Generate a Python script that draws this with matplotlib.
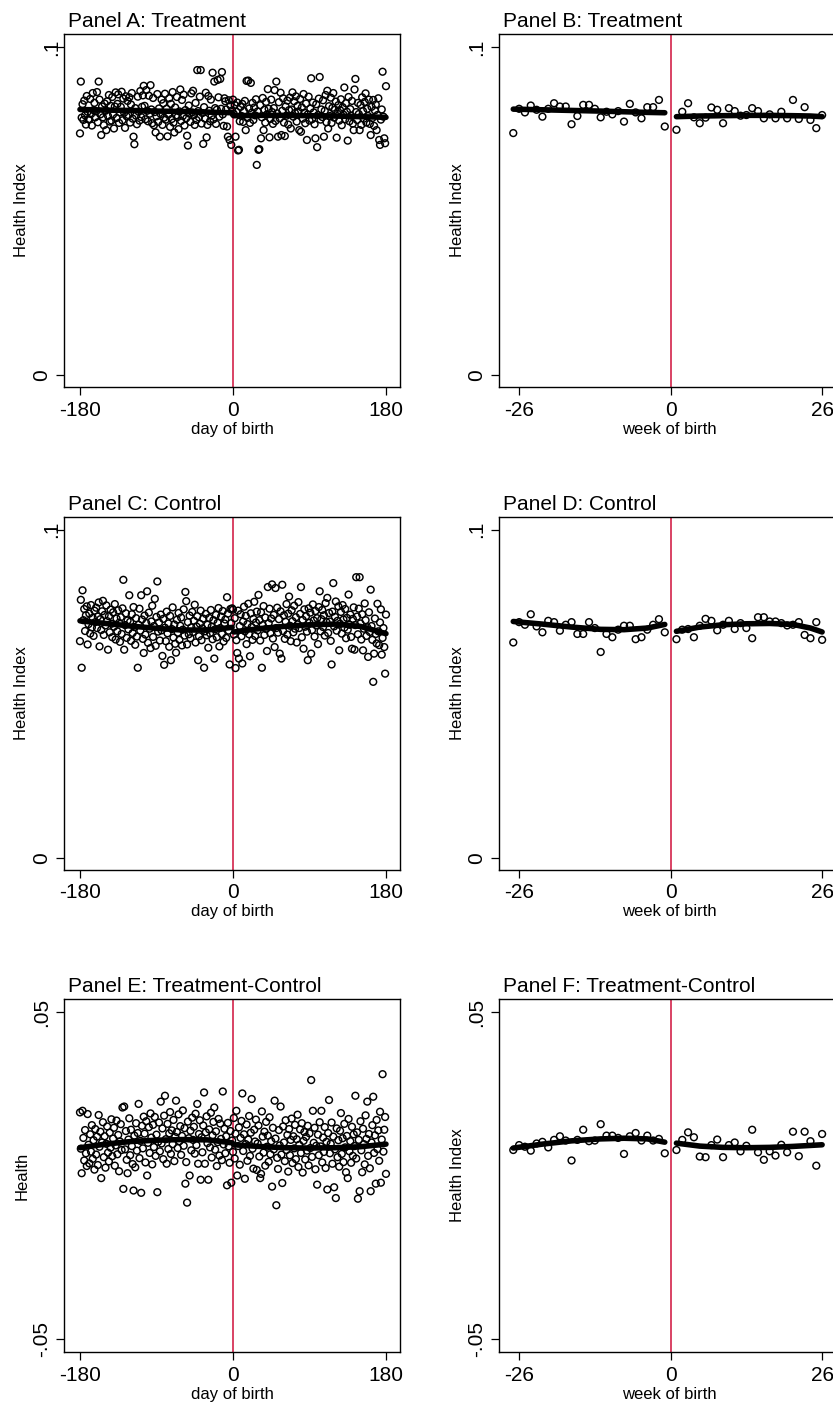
import numpy as np
import matplotlib
matplotlib.use("Agg")
import matplotlib.pyplot as plt
import matplotlib.transforms as mtransforms

plt.rcParams['font.family'] = ['Liberation Sans', 'DejaVu Sans']

# ---------------- data (values in thousandths of the index) ----------------
days = np.arange(-180, 181)
weeks = np.r_[np.arange(-27, 0), np.arange(1, 27)]

treat_day = [
    73.7, 89.5, 78.5, 82.6, 77.8, 83.7, 79.2, 76.4, 85.1, 80.3, 78.0, 77.9, 84.2, 79.6, 76.1, 86.0, 80.8, 83.0, 78.6,
    80.4, 86.3, 77.1, 89.5, 84.0, 79.5, 73.2, 81.9, 78.6, 76.2, 82.8, 80.6, 74.7, 83.5, 79.0, 85.4, 77.3, 82.1, 77.6,
    84.8, 79.5, 75.2, 81.9, 86.2, 78.4, 82.7, 85.6, 76.9, 80.1, 81.8, 86.4, 77.7, 84.3, 80.0, 75.4, 85.0, 78.9, 83.6,
    79.3, 84.7, 77.0, 82.5, 86.0, 78.2, 72.7, 70.4, 81.4, 79.1, 76.5, 84.9, 80.3, 77.6, 86.6, 78.7, 81.8, 85.3, 88.2,
    82.1, 78.0, 86.9, 80.6, 77.4, 85.2, 79.7, 88.4, 81.0, 76.8, 84.5, 76.2, 80.2, 74.0, 78.9, 85.7, 77.2, 81.3, 72.7,
    79.6, 84.0, 76.3, 82.9, 78.5, 85.8, 77.9, 81.2, 72.8, 79.4, 84.4, 75.7, 82.7, 78.1, 86.3, 77.0, 74.0, 81.6, 79.2,
    84.8, 78.7, 75.0, 80.4, 87.1, 77.5, 83.9, 79.0, 85.5, 76.1, 80.8, 78.3, 73.0, 70.0, 82.2, 79.7, 77.2, 85.9, 80.1,
    86.7, 79.3, 76.3, 83.0, 77.8, 93.0, 80.5, 78.6, 84.9, 93.0, 76.7, 79.9, 70.5, 81.7, 78.2, 86.1, 72.5, 76.3, 85.1,
    80.6, 77.4, 84.0, 79.1, 92.2, 78.0, 89.5, 81.4, 76.6, 80.9, 90.0, 84.7, 78.8, 90.3, 81.2, 92.4, 79.5, 76.0, 84.4,
    83.5, 81.0, 75.8, 72.7, 83.8, 71.7, 82.2, 70.2, 80.7, 84.0, 79.6, 82.4, 72.7, 80.3, 83.1, 68.5, 68.7, 77.4, 81.8,
    79.0, 82.7, 77.2, 80.5, 83.6, 74.7, 89.7, 78.4, 89.8, 81.3, 76.9, 89.1, 80.0, 83.0, 77.8, 81.6, 79.2, 84.1, 64.1,
    80.4, 68.7, 68.9, 82.3, 72.2, 78.6, 84.5, 74.7, 80.9, 77.0, 83.3, 79.5, 87.2, 81.2, 72.5, 78.1, 84.0, 80.2, 76.6,
    81.4, 86.9, 77.5, 89.5, 79.8, 72.7, 83.2, 78.3, 86.1, 73.2, 80.6, 84.4, 77.0, 72.9, 81.9, 79.1, 83.7, 76.4, 80.8,
    84.6, 75.2, 81.0, 86.2, 78.8, 83.5, 79.9, 85.0, 77.3, 82.1, 80.4, 74.7, 84.2, 74.2, 81.6, 78.2, 85.7, 80.0, 76.8,
    82.8, 71.7, 79.5, 84.9, 77.6, 81.3, 90.5, 78.0, 83.1, 80.1, 76.5, 72.2, 82.6, 69.5, 79.3, 84.3, 90.9, 77.9, 81.0,
    78.7, 83.8, 72.7, 80.6, 85.4, 77.1, 86.7, 75.2, 82.0, 79.0, 84.6, 76.9, 81.5, 86.0, 78.5, 80.9, 83.4, 72.4, 79.7,
    82.3, 77.6, 80.8, 84.1, 76.2, 81.7, 79.4, 87.7, 78.0, 82.9, 80.3, 71.5, 84.8, 77.4, 81.1, 79.1, 83.6, 76.7, 74.7,
    87.1, 90.3, 80.2, 77.8, 83.0, 79.6, 74.7, 82.4, 76.3, 84.7, 80.5, 78.2, 83.3, 85.9, 77.0, 81.2, 79.0, 84.0, 76.6,
    73.2, 81.8, 78.4, 83.9, 76.0, 80.7, 82.5, 74.7, 79.3, 84.4, 71.7, 70.2, 77.9, 81.0, 92.5, 78.8, 72.2, 70.7, 88.1,
]

control_day = [
    66.0, 78.6, 57.9, 81.5, 72.4, 75.8, 69.1, 73.9, 76.6, 65.0, 71.2, 74.4, 68.3, 77.0, 70.2, 73.1, 67.6, 75.3, 71.8,
    76.2, 70.0, 73.5, 77.8, 64.4, 72.7, 69.4, 75.1, 78.3, 67.9, 74.0, 70.8, 76.9, 72.1, 63.4, 73.6, 68.7, 75.6, 71.3,
    67.2, 74.8, 70.4, 77.3, 66.5, 72.9, 69.0, 75.4, 71.6, 65.8, 73.3, 68.2, 76.0, 84.7, 63.4, 70.9, 74.5, 67.0, 72.3,
    69.6, 80.0, 71.9, 66.1, 74.2, 68.5, 76.4, 70.3, 64.9, 73.0, 67.4, 57.9, 71.0, 75.9, 69.2, 80.0, 72.6, 66.7, 62.4,
    73.8, 68.0, 71.5, 81.2, 65.5, 74.7, 69.8, 63.9, 72.0, 76.8, 67.3, 70.6, 78.9, 64.6, 73.4, 84.2, 68.9, 71.7, 66.2,
    74.1, 69.3, 61.5, 72.8, 58.8, 70.1, 66.0, 75.0, 68.4, 71.4, 64.3, 73.7, 60.2, 69.7, 76.3, 67.1, 71.1, 65.2, 62.5,
    72.5, 68.6, 74.6, 66.4, 70.7, 73.2, 64.7, 69.5, 75.7, 67.7, 81.0, 78.2, 65.0, 71.8, 68.1, 73.8, 66.9, 70.2, 74.9,
    68.8, 72.2, 77.1, 65.6, 70.5, 73.6, 60.2, 67.5, 71.3, 75.3, 66.3, 69.9, 72.9, 57.9, 69.0, 74.3, 67.8, 71.0, 64.0,
    73.1, 68.4, 75.5, 70.4, 66.6, 72.4, 60.7, 69.6, 74.0, 67.2, 71.6, 76.1, 64.4, 70.0, 73.5, 68.2, 75.2, 65.9, 71.4,
    72.6, 67.0, 79.4, 74.4, 69.2, 58.9, 75.8, 71.5, 76.0, 75.6, 68.0, 73.0, 57.8, 66.3, 62.4, 75.3, 60.7, 70.6, 74.2,
    67.5, 59.2, 72.0, 76.5, 69.0, 73.7, 65.1, 71.2, 77.4, 68.1, 61.4, 74.5, 70.3, 66.4, 72.8, 78.0, 67.6, 71.7, 75.0,
    69.3, 80.1, 72.4, 66.2, 74.8, 57.9, 70.9, 76.7, 67.9, 73.2, 69.7, 63.0, 82.5, 71.5, 75.9, 68.4, 72.9, 83.3, 66.8,
    74.0, 64.2, 82.2, 70.0, 76.2, 68.6, 72.7, 62.2, 75.1, 60.7, 83.2, 69.1, 73.9, 66.7, 71.9, 77.3, 68.0, 74.4, 79.6,
    70.7, 66.0, 75.4, 72.1, 68.7, 76.8, 69.8, 73.3, 65.6, 71.1, 77.9, 70.0, 74.3, 82.5, 67.2, 72.5, 63.7, 75.7, 70.4,
    73.6, 68.9, 60.2, 76.0, 71.6, 74.7, 62.2, 69.4, 77.2, 72.3, 67.4, 75.2, 70.8, 73.0, 65.1, 76.4, 81.2, 69.0, 72.7,
    75.5, 70.3, 73.9, 67.7, 77.6, 71.8, 79.2, 68.5, 74.6, 72.0, 66.1, 58.9, 75.0, 83.7, 70.5, 73.4, 78.1, 69.2, 72.2,
    76.6, 63.2, 71.3, 74.9, 68.3, 77.0, 72.6, 70.1, 75.8, 66.9, 73.1, 69.5, 80.2, 71.0, 74.1, 67.3, 63.7, 72.8, 76.3,
    63.4, 70.9, 85.5, 73.5, 68.1, 75.9, 85.5, 71.4, 66.5, 74.2, 63.2, 69.8, 77.5, 72.4, 67.6, 70.2, 61.2, 74.8, 68.8,
    81.7, 70.6, 66.4, 53.6, 62.2, 72.9, 68.2, 65.3, 77.4, 69.0, 64.8, 71.7, 75.7, 61.9, 67.0, 70.0, 64.2, 56.1, 74.1,
]

diff_day = [
    19.3, 8.2, 0.7, 19.8, 11.5, 4.6, 13.9, 6.8, 2.9, 18.8, 9.4, 3.7, 12.6, 7.3, 15.4, 5.1, 10.8, 1.8, 14.2,
    6.4, 11.9, 3.2, 18.5, 8.8, 13.4, -0.8, 10.1, 16.3, 5.6, 12.0, 2.4, 9.7, 15.0, 7.0, 4.3, 13.1, 8.5, 17.2,
    5.9, 11.3, 14.6, 3.0, 9.2, 16.8, 6.5, 12.4, 1.3, 10.4, 15.7, 7.8, 20.8, -4.1, 21.1, 8.0, 13.6, 4.8, 0.7,
    11.0, 17.5, 6.2, 14.0, 9.0, 3.5, -4.6, 12.2, 2.5, 16.0, 7.6, 13.0, 21.9, 5.3, 10.6, -5.3, 15.2, 8.3, 18.0,
    12.8, 4.0, 16.6, 0.0, 10.0, 14.8, 6.9, 19.0, 11.6, 3.4, 15.5, 8.7, 17.9, 6.0, 12.5, -5.1, 10.3, 16.2, 7.4,
    22.6, 9.8, 14.4, 5.0, 18.3, 24.4, 11.1, 3.6, 15.8, 8.1, 12.9, 19.4, 6.6, 13.8, 9.6, 17.0, 4.4, 11.8, 22.9,
    13.3, 8.4, 18.7, 10.5, 15.1, 6.3, 12.1, 19.9, 9.1, 14.5, -2.5, 4.1, -8.3, 16.5, 11.4, 0.0, 13.7, 7.7, 17.7,
    10.9, 14.9, 6.7, 18.9, 9.3, 21.9, 3.6, 12.7, 16.9, -1.3, 11.7, 7.1, 15.3, 25.4, 3.6, 13.2, 18.1, 9.9, -1.3,
    14.1, 8.6, 19.2, 5.5, 12.3, 16.4, 20.8, 7.9, 13.5, 2.9, 10.2, 17.3, 6.1, 15.9, 11.2, 4.7, 25.7, 9.5, 14.3,
    6.8, 12.0, -3.0, 16.1, 8.9, 3.9, 13.6, -2.2, 10.7, 7.2, 17.6, 5.2, 12.8, 19.8, 0.0, 9.0, 14.7, 3.3, 11.5,
    16.7, 25.1, 7.5, 12.6, -1.0, 9.6, 15.6, 4.5, 11.0, 18.2, 6.0, 13.1, 23.4, 8.2, 2.1, 14.0, 10.4, 17.1, 1.7,
    9.8, 15.3, 5.8, -0.8, 0.5, 19.6, 11.9, 7.0, 13.4, 3.0, 16.4, 8.8, 12.2, 4.2, 17.8, 6.5, 10.5, -3.4, 14.6,
    8.0, 22.9, 11.3, -9.1, 5.4, 2.0, 13.9, 9.2, 21.1, 6.4, -2.3, 15.0, 10.1, 4.4, 16.9, 7.8, 12.4, 1.2, 14.2,
    6.2, 10.9, 17.4, 3.8, 12.0, 8.3, 15.5, 5.0, 11.1, 18.6, 2.6, 9.4, 14.1, 6.9, 16.0, 0.9, 10.6, 13.3, 4.9,
    11.8, 7.6, 15.2, 3.1, 12.9, 8.4, 29.2, 5.7, 19.8, 10.0, 14.6, 1.9, 9.1, -2.8, 12.5, 6.2, 16.3, 8.9, 19.8,
    4.0, 11.6, 7.2, 14.8, 2.3, 10.3, -4.3, 13.0, 23.1, 6.8, 9.7, 16.2, 3.6, 11.9, -3.6, 8.0, -6.9, 14.4, 5.6,
    10.8, 2.7, 13.7, 19.1, 6.6, 11.4, 4.1, 15.8, 8.6, 1.0, 12.1, -0.8, 17.3, 7.4, 10.5, 3.9, 14.9, 6.0, 12.6,
    9.0, 24.4, 5.2, 13.2, -7.1, 10.9, -4.8, 16.6, 7.7, 1.0, 14.3, 9.6, 3.4, 18.4, 11.2, 22.6, 6.0, 12.7, 2.2,
    -4.8, 10.1, 15.4, 24.1, 6.9, 12.3, -2.5, 17.0, 8.1, 13.8, 4.5, 19.5, -2.2, 11.0, 31.0, 7.3, 14.0, 17.9, 0.5,
]

treat_week = [
    73.8, 81.2, 80.1, 82.2, 80.9, 78.8, 81.2, 82.9, 81.9, 81.9, 76.5, 79.0, 82.4, 82.4, 81.2, 78.6, 80.3, 79.5,
    80.5, 77.3, 82.7, 80.1, 78.3, 81.7, 81.7, 83.9, 75.8,
    74.8, 80.3, 82.9, 78.6, 76.8, 78.5, 81.6, 80.9, 76.8, 81.4, 80.5, 79.1, 79.3, 81.4, 80.5, 78.3, 79.5, 78.3,
    80.3, 78.3, 83.9, 78.1, 81.7, 77.8, 75.3, 79.3,
]
control_week = [
    65.6, 71.8, 71.0, 74.2, 70.5, 68.7, 72.2, 71.8, 69.2, 71.0, 71.8, 68.2, 68.2, 71.8, 70.0, 62.7, 68.2, 67.2,
    69.5, 70.7, 70.7, 66.6, 67.2, 69.5, 71.0, 72.7, 68.7,
    66.6, 69.5, 69.7, 67.2, 70.7, 72.8, 72.2, 69.3, 71.0, 72.2, 69.7, 71.5, 70.0, 66.9, 73.3, 73.3, 72.0, 72.0,
    71.5, 70.8, 71.0, 71.8, 67.9, 66.9, 71.8, 66.4,
]
diff_week = [
    7.8, 9.3, 8.8, 7.6, 9.8, 10.3, 8.6, 10.9, 12.0, 10.7, 4.6, 10.9, 14.0, 10.5, 10.7, 15.7, 12.2, 12.2,
    11.5, 6.6, 12.0, 13.0, 10.7, 12.2, 10.7, 11.2, 6.8,
    7.8, 10.9, 13.2, 11.7, 5.8, 5.6, 9.3, 11.0, 5.6, 9.3, 10.1, 7.4, 9.1, 14.0, 7.1, 4.8, 7.4, 6.1,
    9.4, 7.1, 13.4, 5.9, 13.4, 10.5, 3.0, 12.7,
]

# fitted curves, left and right of the cutoff
fit_days_left = [-180, -150, -120, -90, -60, -30, -1]
fit_days_right = [1, 30, 60, 90, 120, 150, 180]
treat_fit_day_left = [81.0, 80.8, 80.7, 80.5, 80.4, 80.2, 80.0]
treat_fit_day_right = [79.1, 79.2, 79.2, 79.1, 79.0, 78.8, 78.6]
control_fit_day_left = [72.2, 71.4, 70.6, 69.9, 69.4, 69.4, 70.2]
control_fit_day_right = [68.8, 69.8, 70.5, 71.0, 71.2, 70.5, 68.3]
diff_fit_day_left = [8.5, 9.6, 10.4, 10.8, 11.0, 10.9, 10.0]
diff_fit_day_right = [9.4, 8.9, 8.5, 8.4, 8.5, 8.8, 9.6]

fit_weeks_left = [-27, -22, -17, -12, -8, -4, -1]
fit_weeks_right = [1, 5, 9, 13, 17, 21, 24, 26]
treat_fit_week_left = [81.1, 80.9, 80.7, 80.5, 80.3, 80.1, 80.0]
treat_fit_week_right = [78.8, 79.0, 79.1, 79.2, 79.2, 79.1, 79.0, 78.8]
control_fit_week_left = [72.0, 71.2, 70.3, 69.6, 69.5, 70.0, 71.1]
control_fit_week_right = [69.0, 70.3, 71.0, 71.3, 71.4, 71.1, 70.0, 68.8]
diff_fit_week_left = [8.4, 9.6, 10.6, 11.2, 11.4, 11.2, 10.2]
diff_fit_week_right = [9.9, 9.0, 8.6, 8.5, 8.6, 8.9, 9.2, 9.4]

titles = ["Panel A: Treatment", "Panel B: Treatment", "Panel C: Control",
          "Panel D: Control", "Panel E: Treatment-Control", "Panel F: Treatment-Control"]
ylabels = ["Health Index", "Health Index", "Health Index", "Health Index", "Health", "Health Index"]
xlabels = ["day of birth", "week of birth"]
day_ticks = [-180, 0, 180]
week_ticks = [-26, 0, 26]
level_ticks = [0, 0.1]
level_ticklabels = ["0", ".1"]
diff_ticks = [-0.05, 0.05]
diff_ticklabels = ["-.05", ".05"]

# ---------------- layout ----------------
W, H = 833, 1406
fig = plt.figure(figsize=(W / 100, H / 100), dpi=100)
row_tops = [34, 516.5, 999]
box_h = 353
col_left = [64, 499]
col_w = [336, 340.3]

RED = '#d0103a'
K = 1 / 1000.0


def panel(ax, x, y, fxl, fyl, fxr, fyr, xlim, xticks, ylim, yticks, ytl, title, xlabel, ylabel,
          wpx, shift_top_label=False):
    ax.axvline(0, color=RED, lw=1.1, zorder=1)
    ax.scatter(x, np.asarray(y) * K, s=24, facecolors='none', edgecolors='black',
               linewidths=1.05, zorder=2)
    for fx, fy in ((fxl, fyl), (fxr, fyr)):
        ax.plot(fx, np.asarray(fy) * K, color='black', lw=4.0,
                solid_capstyle='round', solid_joinstyle='round', zorder=3)
    ax.set_xlim(*xlim)
    ax.set_ylim(*ylim)
    ax.set_xticks(xticks)
    ax.set_xticklabels([str(t) for t in xticks])
    ax.set_yticks(yticks)
    ax.set_yticklabels(ytl, rotation=90, va='center')
    ax.tick_params(axis='both', direction='out', length=5.8, width=0.9,
                   labelsize=15, color='black')
    ax.tick_params(axis='x', pad=4)
    ax.tick_params(axis='y', pad=3.3)
    if shift_top_label:
        lab = ax.get_yticklabels()[-1]
        off = mtransforms.ScaledTranslation(10 / 100, 0, fig.dpi_scale_trans)
        lab.set_transform(lab.get_transform() + off)
    for sp in ax.spines.values():
        sp.set_linewidth(1.0)
        sp.set_color('black')
    t = ax.set_title(title, loc='left', fontsize=15, pad=5)
    t.set_x(4 / wpx)
    ax.set_xlabel(xlabel, fontsize=12)
    ax.xaxis.set_label_coords(0.5, -0.098)
    ax.set_ylabel(ylabel, fontsize=12)
    ax.yaxis.set_label_coords(-34.5 / wpx, 0.5)


level_ylim = (-0.0036, 0.1040)
diff_ylim = (-0.054, 0.054)

day_series = [(treat_day, treat_fit_day_left, treat_fit_day_right),
              (control_day, control_fit_day_left, control_fit_day_right),
              (diff_day, diff_fit_day_left, diff_fit_day_right)]
week_series = [(treat_week, treat_fit_week_left, treat_fit_week_right),
               (control_week, control_fit_week_left, control_fit_week_right),
               (diff_week, diff_fit_week_left, diff_fit_week_right)]

for r in range(3):
    bottom = 1 - (row_tops[r] + box_h) / H
    if r < 2:
        ylim, yt, ytl = level_ylim, level_ticks, level_ticklabels
    else:
        ylim, yt, ytl = diff_ylim, diff_ticks, diff_ticklabels
    # left: daily
    ax = fig.add_axes([col_left[0] / W, bottom, col_w[0] / W, box_h / H])
    yv, fl, fr = day_series[r]
    panel(ax, days, yv, fit_days_left, fl, fit_days_right, fr, (-198.8, 196.5), day_ticks,
          ylim, yt, ytl, titles[2 * r], xlabels[0], ylabels[2 * r], col_w[0],
          shift_top_label=(r < 2))
    # right: weekly
    ax = fig.add_axes([col_left[1] / W, bottom, col_w[1] / W, box_h / H])
    yv, fl, fr = week_series[r]
    panel(ax, weeks, yv, fit_weeks_left, fl, fit_weeks_right, fr, (-29.45, 28.95), week_ticks,
          ylim, yt, ytl, titles[2 * r + 1], xlabels[1], ylabels[2 * r + 1], col_w[1])

fig.savefig("out.png", dpi=100, facecolor='white')
